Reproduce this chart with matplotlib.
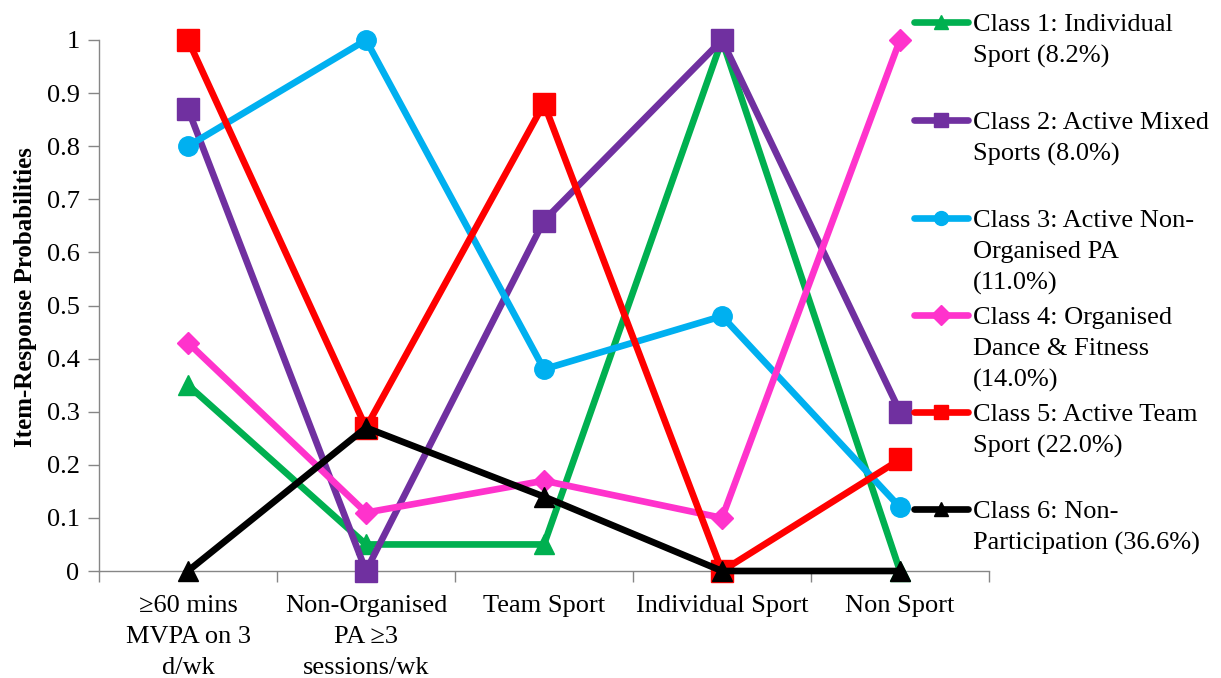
import matplotlib
matplotlib.use("Agg")
import matplotlib.pyplot as plt
from matplotlib.lines import Line2D
from matplotlib.ticker import FixedLocator, FuncFormatter

plt.rcParams["font.family"] = ["Liberation Serif", "DejaVu Serif"]

categories = ["\u226560 mins\nMVPA on 3\nd/wk", "Non-Organised\nPA \u22653\nsessions/wk",
              "Team Sport", "Individual Sport", "Non Sport"]

class_names = ["Class 1: Individual\nSport (8.2%)",
               "Class 2: Active Mixed\nSports (8.0%)",
               "Class 3: Active Non-\nOrganised PA\n(11.0%)",
               "Class 4: Organised\nDance & Fitness\n(14.0%)",
               "Class 5: Active Team\nSport (22.0%)",
               "Class 6: Non-\nParticipation (36.6%)"]

class1 = [0.35, 0.05, 0.05, 1.00, 0.00]
class2 = [0.87, 0.00, 0.66, 1.00, 0.30]
class3 = [0.80, 1.00, 0.38, 0.48, 0.12]
class4 = [0.43, 0.11, 0.17, 0.10, 1.00]
class5 = [1.00, 0.27, 0.88, 0.00, 0.21]
class6 = [0.00, 0.27, 0.14, 0.00, 0.00]

series = [class1, class2, class3, class4, class5, class6]
colors = ["#00B050", "#7030A0", "#00B0F0", "#FF33CC", "#FF0000", "#000000"]
markers = ["^", "s", "o", "D", "s", "^"]
msizes = [14, 16, 14, 11, 16, 14]

fig = plt.figure(figsize=(12.21, 6.78), dpi=100)
ax = fig.add_axes([99 / 1221, 1 - 571 / 678, 890 / 1221, 531 / 678])

x = list(range(len(categories)))
for i, vals in enumerate(series):
    ax.plot(x, vals, color=colors[i], lw=4.8, marker=markers[i], ms=msizes[i],
            solid_joinstyle="miter", clip_on=False, zorder=3 + i)

ax.set_xlim(-0.5, len(categories) - 0.5)
ax.set_ylim(0, 1)
ax.set_xticks(x)
ax.set_xticklabels(categories, fontsize=19, linespacing=1.53)
ax.xaxis.set_minor_locator(FixedLocator([i - 0.5 for i in range(len(categories) + 1)]))
ax.tick_params(axis="x", which="major", length=0, pad=17)
ax.tick_params(axis="x", which="minor", length=8, width=1, color="#868686", direction="out")
ax.set_yticks([i / 10 for i in range(11)])
ax.yaxis.set_major_formatter(FuncFormatter(lambda v, p: "%g" % round(v, 1)))
ax.tick_params(axis="y", length=8, width=1, color="#868686", direction="out", labelsize=19, pad=6)

for side in ["top", "right"]:
    ax.spines[side].set_visible(False)
for side in ["left", "bottom"]:
    ax.spines[side].set_color("#868686")
    ax.spines[side].set_linewidth(1)

ax.set_ylabel("Item-Response Probabilities", fontsize=18, fontweight="bold", labelpad=7)
ax.yaxis.label.set_y(0.516)

# legend drawn by hand to keep Excel-like spacing
legend_y = [22, 120, 218, 315, 412, 509]
for i, name in enumerate(class_names):
    yy = 1 - legend_y[i] / 678
    fig.add_artist(Line2D([914 / 1221, 968 / 1221], [yy, yy], transform=fig.transFigure,
                          color=colors[i], lw=4.8, solid_capstyle="round"))
    fig.add_artist(Line2D([941 / 1221], [yy], transform=fig.transFigure,
                          color=colors[i], marker=markers[i], ms=10))
    fig.text(973 / 1221, yy + 8 / 678, name, fontsize=19, va="top", ha="left",
             linespacing=1.52)

fig.savefig("out.png", dpi=100)
